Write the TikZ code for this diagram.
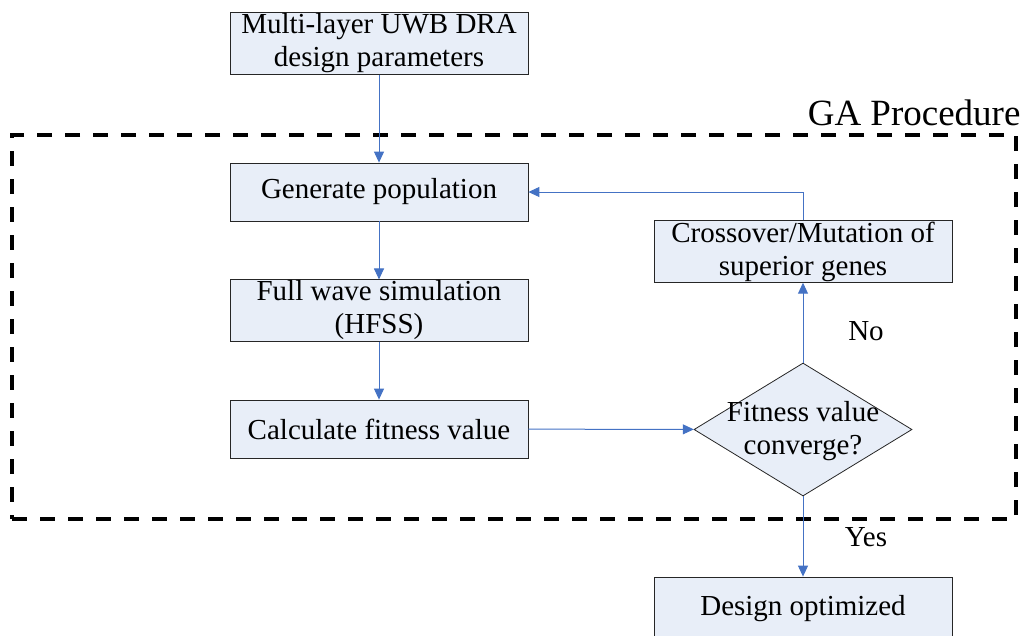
\documentclass[tikz,border=0pt]{standalone}
\usepackage{fontspec}
\setmainfont{Liberation Serif}
\usetikzlibrary{shapes.geometric,arrows.meta}
\definecolor{boxfill}{HTML}{E8EEF8}
\definecolor{arrowblue}{HTML}{4472C4}
\tikzset{
  box/.style={draw=black!85, line width=0.8pt, fill=boxfill, minimum width=298pt, minimum height=58pt, inner sep=1pt, align=center, font=\fontsize{29}{33}\selectfont},
  dec/.style={draw=black!85, line width=0.8pt, fill=boxfill, shape=diamond, minimum width=218pt, minimum height=133pt, inner sep=0pt},
  flow/.style={draw=arrowblue, line width=1pt, -{Triangle[length=11pt,width=10pt]}},
  lbl/.style={font=\fontsize{29}{33}\selectfont, align=center},
  frame/.style={draw=black, line width=4pt, dash pattern=on 15pt off 13pt}
}
\begin{document}
\begin{tikzpicture}[x=1pt,y=-1pt]
\useasboundingbox (0,0) rectangle (1028,635);
\node[frame, minimum width=1004pt, minimum height=384pt] (ga) at (514,327) {};
\node[lbl, font=\fontsize{37}{42}\selectfont, anchor=base east] (galbl) at (1024,125) {GA Procedure};
\node[box] (params) at (379,43.5) {Multi-layer UWB DRA\\design parameters};
\node[box] (gen) at (379,192) {Generate population};
\node[box] (full) at (379,310.5) {Full wave simulation\\(HFSS)};
\node[box] (calc) at (379,429) {Calculate fitness value};
\node[dec] (conv) at (803,429.5) {};
\node[lbl] (convtxt) at (803,431) {Fitness value\\converge?};
\node[box] (cross) at (803,251.5) {Crossover/Mutation of\\superior genes};
\node[box, minimum height=64pt] (opt) at (803,609) {\raisebox{3pt}{Design optimized}};
\coordinate (turn) at (803,192);
\draw[flow] (params) -- (gen);
\draw[flow] (gen) -- (full);
\draw[flow] (full) -- (calc);
\draw[flow] (calc) -- (conv);
\draw[flow] (conv) -- (cross);
\draw[flow] (cross.north) -- (turn) -- (gen.east);
\draw[flow] (conv) -- (opt);
\node[lbl] (no) at (866,331) {No};
\node[lbl] (yes) at (866,537) {Yes};
\end{tikzpicture}
\end{document}
